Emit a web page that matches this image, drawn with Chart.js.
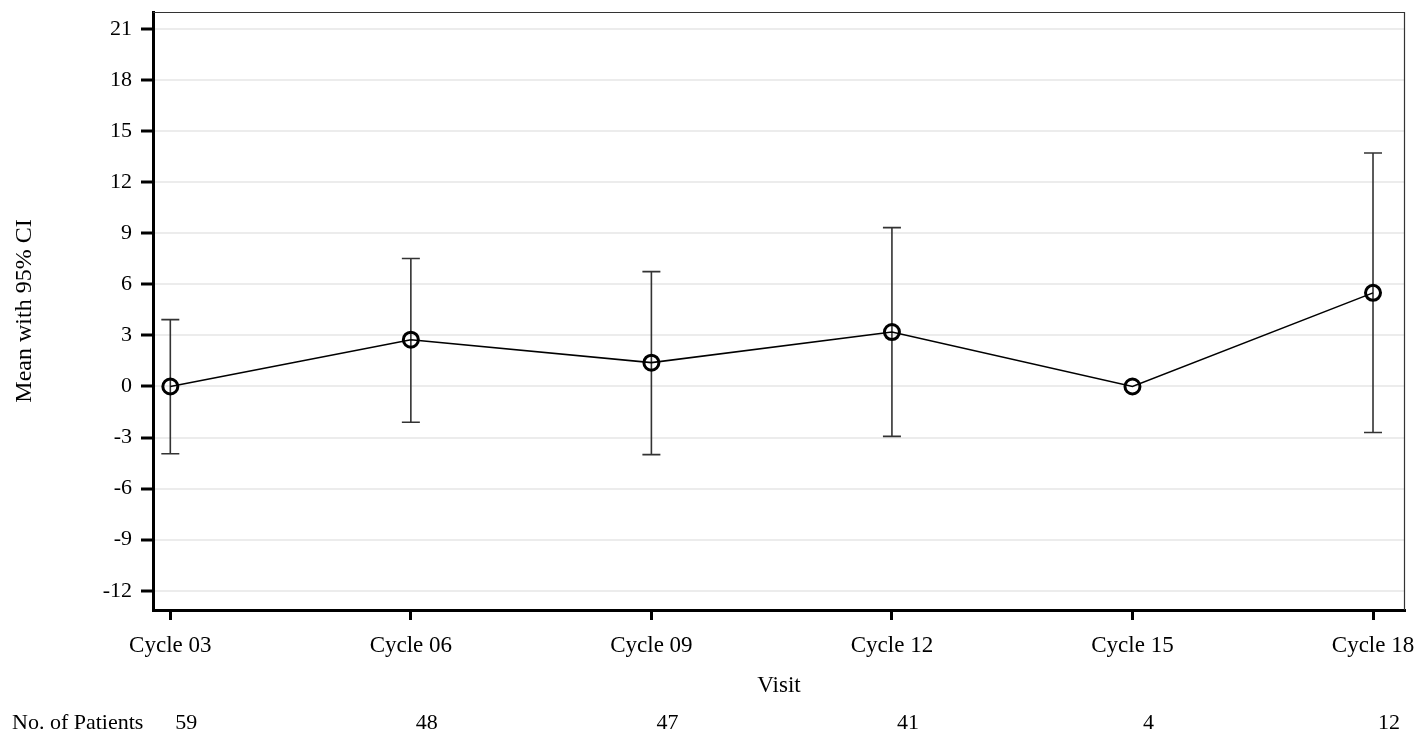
<!DOCTYPE html>
<html>
<head>
<meta charset="utf-8">
<script src="https://cdn.jsdelivr.net/npm/chart.js@4.4.1/dist/chart.umd.min.js"></script>
<style>
html,body{margin:0;padding:0;background:#fff;}
#wrap{width:1419px;height:734px;position:relative;}
</style>
</head>
<body>
<div id="wrap"><canvas id="c" width="1419" height="734"></canvas></div>
<script>
const visits = ["Cycle 03","Cycle 06","Cycle 09","Cycle 12","Cycle 15","Cycle 18"];
const means = [0.0, 2.75, 1.4, 3.2, 0.0, 5.5];
const lowerCI = [-3.95, -2.1, -4.0, -2.93, null, -2.7];
const upperCI = [3.93, 7.52, 6.75, 9.33, null, 13.72];
const patients = [59, 48, 47, 41, 4, 12];
const yTicks = [-12, -9, -6, -3, 0, 3, 6, 9, 12, 15, 18, 21];

const FONT = "'Liberation Serif', 'Times New Roman', serif";

const errorBars = {
  id: 'errorBars',
  beforeDatasetsDraw(chart) {
    const {ctx, scales: {x, y}} = chart;
    ctx.save();
    ctx.strokeStyle = '#333';
    ctx.lineWidth = 1.6;
    visits.forEach((v, i) => {
      if (lowerCI[i] == null || upperCI[i] == null) return;
      const px = x.getPixelForValue(i);
      const y1 = y.getPixelForValue(lowerCI[i]);
      const y2 = y.getPixelForValue(upperCI[i]);
      ctx.beginPath();
      ctx.moveTo(px, y1); ctx.lineTo(px, y2);
      ctx.moveTo(px - 9, y1); ctx.lineTo(px + 9, y1);
      ctx.moveTo(px - 9, y2); ctx.lineTo(px + 9, y2);
      ctx.stroke();
    });
    ctx.restore();
  }
};

const frame = {
  id: 'frame',
  afterDraw(chart) {
    const {ctx, chartArea: a, scales: {x}} = chart;
    ctx.save();
    ctx.strokeStyle = '#333';
    ctx.lineWidth = 1.2;
    ctx.beginPath();
    ctx.moveTo(a.left, a.top + 0.5);
    ctx.lineTo(a.right - 0.5, a.top + 0.5);
    ctx.lineTo(a.right - 0.5, a.bottom);
    ctx.stroke();
    ctx.fillStyle = '#000';
    ctx.font = "22px " + FONT;
    ctx.textBaseline = 'alphabetic';
    ctx.textAlign = 'left';
    ctx.fillText('No. of Patients', 12, 729);
    ctx.textAlign = 'center';
    patients.forEach((n, i) => {
      ctx.fillText(String(n), x.getPixelForValue(i) + 16, 729);
    });
    ctx.restore();
  }
};

new Chart(document.getElementById('c'), {
  type: 'line',
  data: {
    datasets: [{
      data: means.map((m, i) => ({x: i, y: m})),
      borderColor: '#000',
      borderWidth: 1.6,
      pointRadius: 7.5,
      pointBorderWidth: 3,
      pointBorderColor: '#000',
      pointBackgroundColor: 'rgba(0,0,0,0)',
      pointHoverRadius: 7.5,
      tension: 0,
      fill: false
    }]
  },
  options: {
    responsive: false,
    animation: false,
    events: [],
    layout: {padding: {left: 0, top: 12, right: 14, bottom: 0}},
    plugins: {legend: {display: false}, tooltip: {enabled: false}},
    scales: {
      x: {
        type: 'linear',
        min: -0.072,
        max: 5.133,
        afterBuildTicks: s => { s.ticks = visits.map((_, i) => ({value: i})); },
        afterFit: s => { s.height = 124; s.paddingLeft = 0; s.paddingRight = 0; },
        ticks: {
          callback: v => visits[v],
          color: '#000',
          font: {family: FONT, size: 23},
          padding: 12,
          maxRotation: 0,
          autoSkip: false
        },
        grid: {
          drawOnChartArea: false,
          drawTicks: true,
          tickLength: 10,
          tickWidth: 3,
          tickColor: '#000'
        },
        border: {display: true, color: '#000', width: 3},
        title: {
          display: true,
          text: 'Visit',
          color: '#000',
          font: {family: FONT, size: 23},
          padding: {top: 0, bottom: 34}
        }
      },
      y: {
        type: 'linear',
        min: -13.13,
        max: 22,
        afterBuildTicks: s => { s.ticks = yTicks.map(v => ({value: v})); },
        afterFit: s => { s.width = 153; s.paddingTop = 0; s.paddingBottom = 0; },
        ticks: {
          callback: v => String(v),
          color: '#000',
          font: {family: FONT, size: 22},
          padding: 9
        },
        grid: {
          color: '#ececec',
          lineWidth: 2,
          drawTicks: true,
          tickLength: 12,
          tickWidth: 3,
          tickColor: '#000'
        },
        border: {display: true, color: '#000', width: 3},
        title: {
          display: true,
          text: 'Mean with 95% CI',
          color: '#000',
          font: {family: FONT, size: 24},
          padding: {top: 10, bottom: 0}
        }
      }
    }
  },
  plugins: [errorBars, frame]
});
</script>
</body>
</html>
